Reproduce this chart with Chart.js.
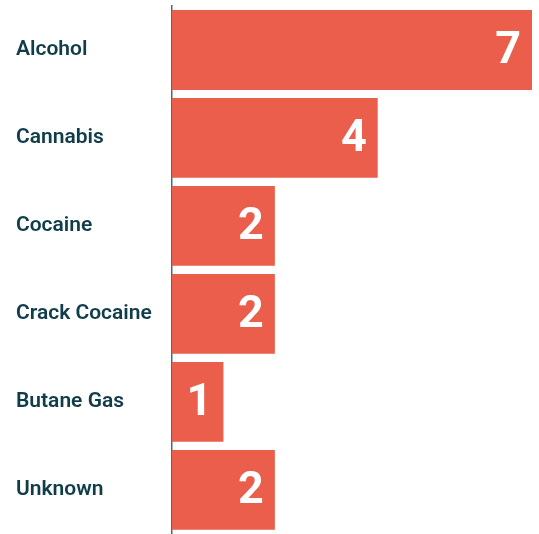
<!DOCTYPE html>
<html>
<head>
<meta charset="utf-8">
<script src="https://cdn.jsdelivr.net/npm/chart.js@4/dist/chart.umd.min.js"></script>
<style>
  html, body { margin: 0; padding: 0; background: #fff; }
  #wrap { width: 539px; height: 534px; }
</style>
</head>
<body>
<div id="wrap"><canvas id="chart"></canvas></div>
<script>
var categories = ['Alcohol', 'Cannabis', 'Cocaine', 'Crack Cocaine', 'Butane Gas', 'Unknown'];
var values = [7, 4, 2, 2, 1, 2];

var barColor = '#eb5e4b';
var labelColor = '#0f3d4a';

// value labels drawn inside the end of each bar
var valueLabels = {
    id: 'valueLabels',
    afterDatasetsDraw: function (chart) {
        var ctx = chart.ctx;
        var meta = chart.getDatasetMeta(0);
        ctx.save();
        ctx.font = "bold 45px Roboto, sans-serif";
        ctx.fillStyle = '#ffffff';
        ctx.textAlign = 'right';
        ctx.textBaseline = 'middle';
        meta.data.forEach(function (bar, i) {
            ctx.fillText(String(values[i]), bar.x - 11, bar.y + 2);
        });
        ctx.restore();
    }
};

new Chart(document.getElementById('chart'), {
    type: 'bar',
    data: {
        labels: categories,
        datasets: [{
            data: values,
            backgroundColor: barColor,
            borderWidth: 0,
            barPercentage: 0.907,
            categoryPercentage: 1.0
        }]
    },
    options: {
        indexAxis: 'y',
        responsive: true,
        maintainAspectRatio: false,
        animation: false,
        layout: { padding: { left: 16, right: 7, top: 6, bottom: 0 } },
        plugins: {
            legend: { display: false },
            tooltip: { enabled: false }
        },
        scales: {
            x: { display: false, min: 0, max: 7 },
            y: {
                grid: { display: false },
                border: { display: true, color: '#4a6d77', width: 1.5 },
                afterFit: function (scale) { scale.width = 156; },
                ticks: {
                    crossAlign: 'far',
                    color: labelColor,
                    padding: 0,
                    font: { family: 'Roboto', weight: 600, size: 21, lineHeight: 0.01 }
                }
            }
        }
    },
    plugins: [valueLabels]
});
</script>
</body>
</html>
